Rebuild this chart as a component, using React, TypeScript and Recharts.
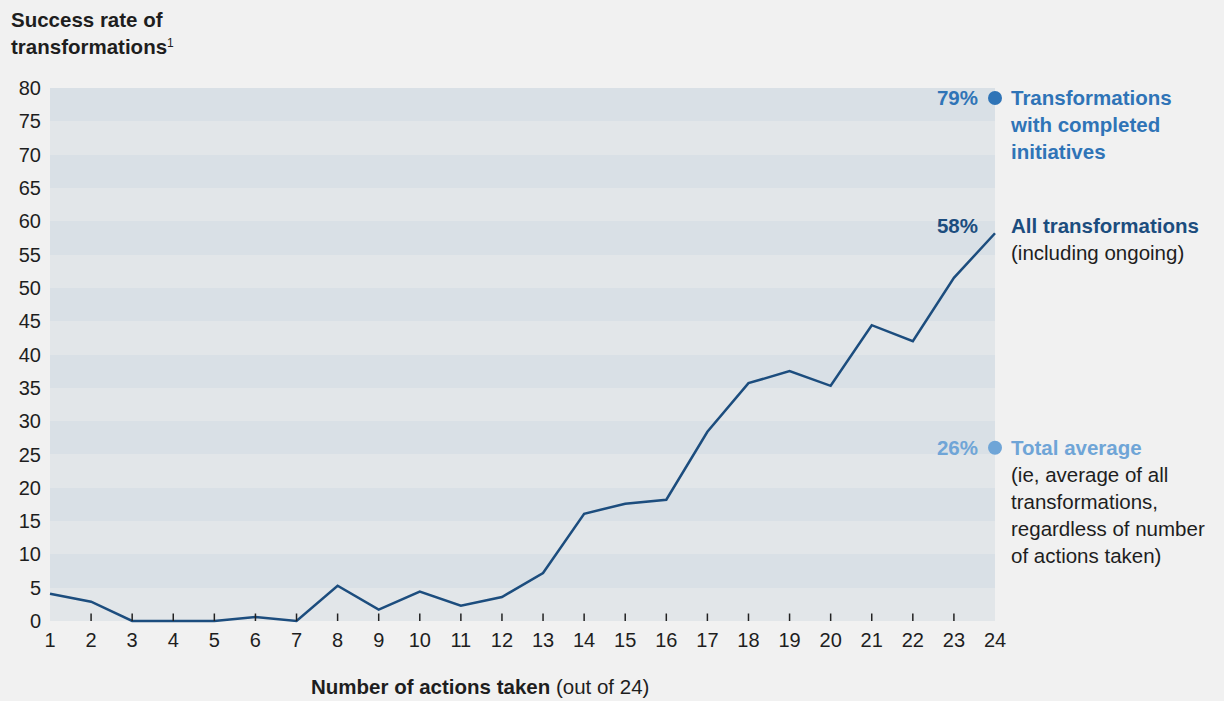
import React from 'react';
import { LineChart, Line, XAxis, YAxis, CartesianGrid, ReferenceDot } from 'recharts';

const actions = [1, 2, 3, 4, 5, 6, 7, 8, 9, 10, 11, 12, 13, 14, 15, 16, 17, 18, 19, 20, 21, 22, 23, 24];
const successRate = [
  4.1, 2.9, 0, 0, 0, 0.6, 0, 5.3, 1.7, 4.4, 2.3, 3.6, 7.2, 16.1, 17.6, 18.2, 28.4, 35.7, 37.5, 35.3, 44.4,
  42.0, 51.5, 58.2,
];
const yTicks = [0, 5, 10, 15, 20, 25, 30, 35, 40, 45, 50, 55, 60, 65, 70, 75, 80];

const markerLabels = ['79%', '58%', '26%'];
const markerValues = [78.5, 58.2, 26];

const FONT = '"Liberation Sans", Arial, Helvetica, sans-serif';
const BG = '#f1f1f1';
const BAND_LIGHT = '#e2e6e9';
const BAND_DARK = '#d9e0e6';
const NAVY = '#1c4d7e';
const BLUE = '#2f74b7';
const LIGHT_BLUE = '#6fa5d7';
const TEXT = '#1e1e1e';

const data = actions.map((a, i) => ({ actions: a, rate: successRate[i] }));

type LabelLine = { text: string; bold?: boolean; color: string };

const makeLabel =
  (pct: string, pctColor: string, lines: LabelLine[], shift = 0) =>
  (props: any) => {
    const vb = props.viewBox || {};
    const cx = (vb.x ?? 0) + (vb.width ?? 0) / 2;
    const cy = (vb.y ?? 0) + (vb.height ?? 0) / 2 + shift;
    return (
      <g style={{ fontFamily: FONT, fontSize: 20.5 }}>
        <text x={cx - 17} y={cy} dy="0.35em" textAnchor="end" fontWeight="bold" fill={pctColor}>
          {pct}
        </text>
        {lines.map((l, i) => (
          <text
            key={i}
            x={cx + 16}
            y={cy + i * 27}
            dy="0.35em"
            fontWeight={l.bold ? 'bold' : 'normal'}
            fill={l.color}
          >
            {l.text}
          </text>
        ))}
      </g>
    );
  };

// small tick marks drawn upward into the plot, labels below
const XTick = (props: any) => {
  const { x, y, payload } = props;
  const edge = payload.value === actions[0] || payload.value === actions[actions.length - 1];
  return (
    <g>
      {!edge && <line x1={x} x2={x} y1={y - 7.5} y2={y} stroke="#222" strokeWidth={1.5} />}
      <text x={x} y={y + 26} textAnchor="middle" fill={TEXT} style={{ fontFamily: FONT, fontSize: 20 }}>
        {payload.value}
      </text>
    </g>
  );
};

export default function App() {
  return (
    <div
      style={{
        position: 'fixed',
        left: 0,
        top: 0,
        width: 1224,
        height: 701,
        background: BG,
        fontFamily: FONT,
        color: TEXT,
        overflow: 'hidden',
      }}
    >
      <div style={{ position: 'absolute', left: 11, top: 6, fontSize: 20.5, fontWeight: 'bold', lineHeight: '27px' }}>
        Success rate of
        <br />
        transformations
        <sup style={{ fontSize: 12, fontWeight: 'normal', verticalAlign: 'top', lineHeight: '20px' }}>1</sup>
      </div>
      <div style={{ position: 'absolute', left: 311, top: 675, fontSize: 20.5, whiteSpace: 'nowrap' }}>
        <b>Number of actions taken</b> (out of 24)
      </div>
      <LineChart
        width={1224}
        height={701}
        data={data}
        margin={{ top: 88, right: 229, bottom: 0, left: 0 }}
        style={{ position: 'absolute', left: 0, top: 0 }}
      >
        <CartesianGrid
          vertical={false}
          horizontal={true}
          stroke="none"
          horizontalFill={[BAND_DARK, BAND_LIGHT]}
          fillOpacity={1}
        />
        <XAxis
          dataKey="actions"
          type="number"
          domain={[1, 24]}
          ticks={actions}
          interval={0}
          height={80}
          axisLine={false}
          tickLine={false}
          tickSize={0}
          tickMargin={0}
          tick={<XTick />}
        />
        <YAxis
          domain={[0, 80]}
          ticks={yTicks}
          interval={0}
          width={50}
          axisLine={false}
          tickLine={false}
          tickSize={0}
          tickMargin={9}
          tick={{ fill: TEXT, fontSize: 20, fontFamily: FONT }}
        />
        <Line
          type="linear"
          dataKey="rate"
          stroke={NAVY}
          strokeWidth={2.5}
          dot={false}
          activeDot={false}
          isAnimationActive={false}
        />
        <ReferenceDot
          x={24}
          y={markerValues[0]}
          r={7}
          fill={BLUE}
          stroke="none"
          ifOverflow="visible"
          label={makeLabel(markerLabels[0], BLUE, [
            { text: 'Transformations', bold: true, color: BLUE },
            { text: 'with completed', bold: true, color: BLUE },
            { text: 'initiatives', bold: true, color: BLUE },
          ])}
        />
        <ReferenceDot
          x={24}
          y={markerValues[1]}
          r={1}
          fill="none"
          stroke="none"
          ifOverflow="visible"
          label={makeLabel(
            markerLabels[1],
            NAVY,
            [
              { text: 'All transformations', bold: true, color: NAVY },
              { text: '(including ongoing)', color: TEXT },
            ],
            -7,
          )}
        />
        <ReferenceDot
          x={24}
          y={markerValues[2]}
          r={7}
          fill={LIGHT_BLUE}
          stroke="none"
          ifOverflow="visible"
          label={makeLabel(markerLabels[2], LIGHT_BLUE, [
            { text: 'Total average', bold: true, color: LIGHT_BLUE },
            { text: '(ie, average of all', color: TEXT },
            { text: 'transformations,', color: TEXT },
            { text: 'regardless of number', color: TEXT },
            { text: 'of actions taken)', color: TEXT },
          ])}
        />
      </LineChart>
    </div>
  );
}
